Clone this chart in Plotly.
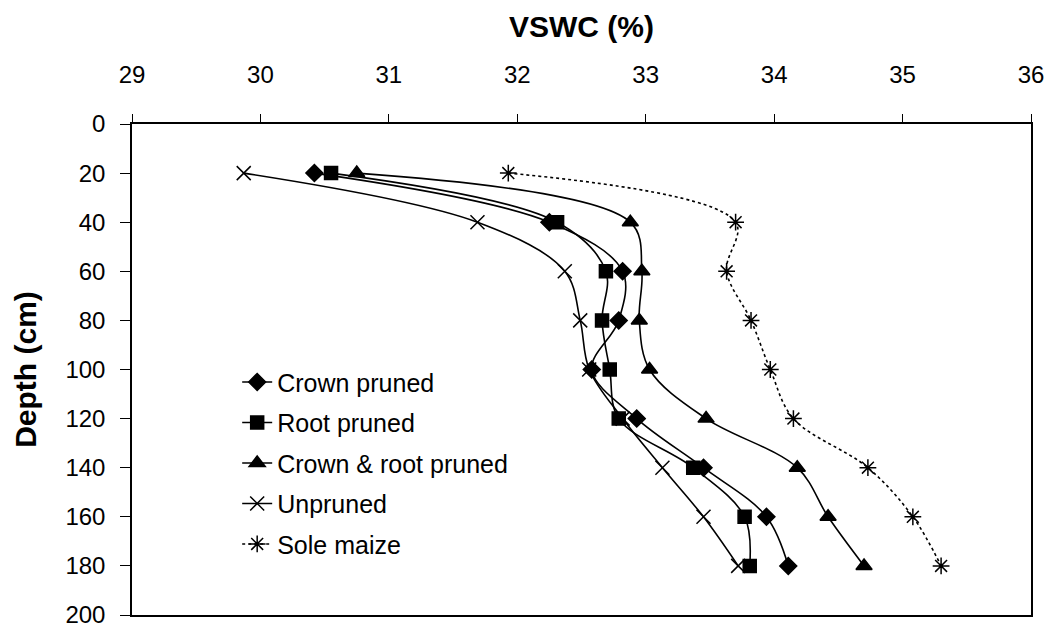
import plotly.graph_objects as go

depth = [20, 40, 60, 80, 100, 120, 140, 160, 180]

crown_pruned = [30.42, 32.25, 32.82, 32.79, 32.58, 32.93, 33.45, 33.94, 34.11]
root_pruned = [30.55, 32.31, 32.69, 32.66, 32.72, 32.79, 33.37, 33.77, 33.81]
crown_root_pruned = [30.75, 32.88, 32.97, 32.95, 33.03, 33.47, 34.18, 34.42, 34.70]
unpruned = [29.87, 31.69, 32.37, 32.49, 32.56, 32.82, 33.13, 33.45, 33.72]
sole_maize = [31.93, 33.70, 33.63, 33.82, 33.97, 34.15, 34.73, 35.08, 35.30]

x_ticks = [29, 30, 31, 32, 33, 34, 35, 36]
y_ticks = [0, 20, 40, 60, 80, 100, 120, 140, 160, 180, 200]

series = [
    ("Crown pruned", crown_pruned, "diamond", 13, "solid"),
    ("Root pruned", root_pruned, "square", 13, "solid"),
    ("Crown & root pruned", crown_root_pruned, "triangle-up", 14, "solid"),
    ("Unpruned", unpruned, "x-thin-open", 14, "solid"),
    ("Sole maize", sole_maize, "asterisk-open", 14, "dot"),
]

FONT = "Arial, Liberation Sans, sans-serif"

fig = go.Figure()
for i, (name, vals, sym, size, dash) in enumerate(series):
    fig.add_trace(go.Scatter(
        x=vals, y=depth, name=name, mode="lines+markers",
        legendgroup=f"g{i}",
        line=dict(color="black", width=1.6, dash=dash, shape="spline", smoothing=1.0),
        marker=dict(symbol=sym, size=size, color="black",
                    line=dict(color="black", width=1.5)),
    ))

fig.update_layout(
    width=1056, height=640,
    margin=dict(l=132, r=23, t=124, b=12),
    paper_bgcolor="white", plot_bgcolor="white",
    font=dict(family=FONT, size=24, color="black"),
    showlegend=True,
    legend=dict(x=0.117, y=0.521, xanchor="left", yanchor="top",
                font=dict(size=25, family=FONT), bgcolor="rgba(0,0,0,0)",
                tracegroupgap=5),
    xaxis=dict(
        side="top", range=[29, 36], tickvals=x_ticks,
        ticks="outside", ticklen=8, tickwidth=1, tickcolor="black",
        showline=True, linecolor="black", linewidth=1.5, mirror=True,
        showgrid=False, zeroline=False,
        tickfont=dict(size=24), ticklabelstandoff=22,
        title=dict(text="<b>VSWC (%)</b>", font=dict(size=30), standoff=14),
    ),
    yaxis=dict(
        range=[200, 0], tickvals=y_ticks,
        ticks="outside", ticklen=10, tickwidth=1, tickcolor="black",
        showline=True, linecolor="black", linewidth=1.5, mirror=True,
        showgrid=False, zeroline=False,
        tickfont=dict(size=24), ticklabelstandoff=10,
        title=dict(text="<b>Depth (cm)</b>", font=dict(size=30), standoff=20),
    ),
)

fig.write_html("out.html")
